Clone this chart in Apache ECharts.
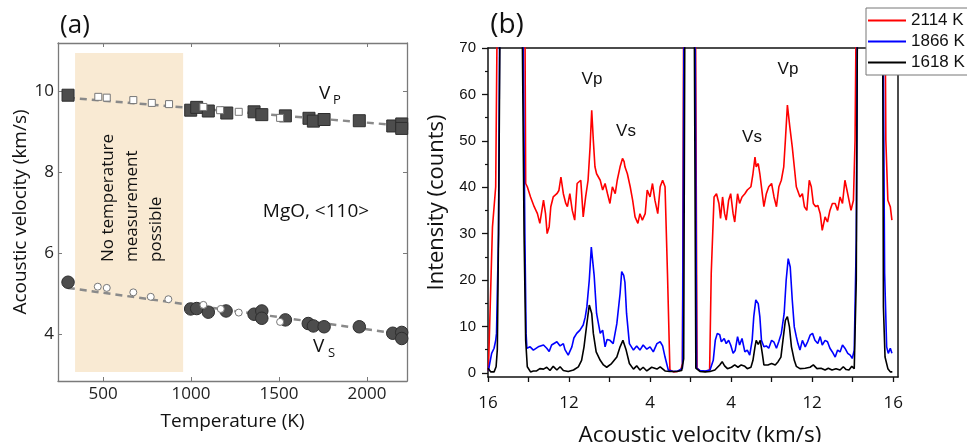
<!DOCTYPE html>
<html><head><meta charset="utf-8">
<script src="https://cdn.jsdelivr.net/npm/echarts@6/dist/echarts.min.js"></script>
<style>html,body{margin:0;padding:0;background:#fff}#c{width:967px;height:442px}</style>
</head><body><div id="c"></div>
<script>
// ---------- Panel (a): acoustic velocity vs temperature ----------
const tempTicks = [500, 1000, 1500, 2000];
const velTicks = [4, 6, 8, 10];
const vpFilledT = [301, 998, 1032, 1098, 1203, 1358, 1402, 1536, 1670, 1695, 1756, 1956, 2146, 2197, 2197];
const vpFilledV = [9.90, 9.53, 9.60, 9.51, 9.46, 9.49, 9.42, 9.39, 9.33, 9.26, 9.30, 9.27, 9.14, 9.19, 9.08];
const vpOpenT = [473, 521, 672, 777, 875, 1070, 1165, 1271, 1506];
const vpOpenV = [9.86, 9.84, 9.78, 9.71, 9.68, 9.61, 9.53, 9.49, 9.34];
const vsFilledT = [301, 998, 1032, 1098, 1199, 1358, 1402, 1402, 1536, 1666, 1695, 1756, 1956, 2146, 2197, 2197];
const vsFilledV = [5.28, 4.62, 4.63, 4.54, 4.57, 4.49, 4.57, 4.39, 4.35, 4.26, 4.20, 4.18, 4.18, 4.02, 4.04, 3.89];
const vsOpenT = [470, 521, 672, 771, 871, 1070, 1169, 1271, 1506];
const vsOpenV = [5.17, 5.14, 5.03, 4.92, 4.86, 4.72, 4.62, 4.53, 4.30];
const vpFitT = [300, 2227];
const vpFitV = [9.84, 9.14];
const vsFitT = [300, 2227];
const vsFitV = [5.14, 3.98];
const shadeT = [341, 955];
const shadeV = [3.06, 10.94];

// ---------- Panel (b): Brillouin spectra ----------
const bTickLabels = ['16', '', '12', '', '4', '', '4', '', '12', '', '16'];
const intensityTicks = [0, 10, 20, 30, 40, 50, 60, 70];
const intensityMinor = [5, 15, 25, 35, 45, 55, 65];
const legendNames = ['2114 K', '1866 K', '1618 K'];
const spec2114 = [[0.1,0.5],[1.1,31.4],[1.9,40.1],[2.3,80],[9.1,80],[9.3,40.8],[9.7,40.1],[10.5,37.9],[11.4,35.8],[12.2,34.3],[12.8,32.2],[13.7,37.2],[14.2,34.3],[14.6,30.0],[15.1,31.5],[15.5,35.8],[16.1,37.9],[17.0,38.6],[17.5,39.3],[18.0,42.2],[18.6,38.6],[19.2,36.5],[19.6,35.8],[20.2,38.6],[20.8,35.0],[21.4,32.9],[22.0,40.8],[22.9,41.5],[23.5,33.6],[24.1,37.9],[24.7,41.5],[25.2,48.7],[25.6,56.6],[26.0,50.1],[26.4,44.4],[26.8,42.9],[27.7,41.5],[28.3,39.4],[28.9,40.8],[29.5,38.6],[30.1,36.5],[30.7,40.1],[31.4,38.6],[31.9,41.5],[32.6,44.4],[33.2,46.2],[33.6,45.5],[33.8,44.4],[34.4,42.9],[35.1,40.1],[35.7,37.2],[36.3,33.6],[37.0,32.2],[37.5,34.3],[38.1,32.9],[38.8,34.3],[39.3,39.4],[40.0,37.9],[40.6,40.8],[41.2,37.2],[41.9,34.3],[42.5,40.1],[43.1,41.5],[43.7,40.1],[44.3,21.4],[44.9,0.6],[45.8,0.2],[46.7,0.3],[47.6,0.6],[48.0,2],[48.3,80],[51.2,80],[51.6,1],[52.3,0.5],[53.6,0.3],[54.7,0.6],[55.1,21.4],[55.8,37.9],[56.4,38.6],[57.0,36.5],[57.4,33.3],[57.9,37.9],[58.4,34.3],[58.8,32.9],[59.4,37.2],[59.9,38.6],[60.5,34.3],[60.9,32.5],[61.6,38.6],[62.1,36.5],[62.7,37.9],[63.4,38.6],[64.0,39.4],[64.9,40.1],[65.4,42.9],[65.9,46.5],[66.2,44.4],[66.7,45.1],[67.1,42.9],[67.7,38.6],[68.1,35.8],[68.7,38.6],[69.3,40.1],[70.0,40.8],[70.6,37.9],[71.2,35.8],[71.8,40.1],[72.4,41.5],[73.0,44.4],[73.4,50.1],[73.9,57.7],[74.5,53.0],[75.1,48.7],[75.6,44.4],[76.1,40.1],[76.5,40.1],[77.0,37.9],[77.6,38.6],[78.1,35.8],[78.7,35.0],[79.3,41.5],[79.8,40.1],[80.3,36.5],[80.9,35.8],[81.4,36.1],[82.0,34.3],[82.5,30.7],[83.2,33.6],[83.8,32.5],[84.4,35.0],[85.0,36.5],[85.7,36.5],[86.3,35.0],[86.9,37.9],[87.5,36.5],[88.1,41.5],[88.6,39.4],[89.1,37.2],[89.6,35.0],[90.2,37.2],[90.6,50.1],[90.9,80],[98.0,80],[98.2,50.1],[98.7,37.2],[99.3,35.8],[99.7,32.9]];
const spec1866 = [[0.1,0.5],[0.9,4.2],[1.5,5.3],[1.9,7.0],[2.1,8.5],[2.6,30],[2.9,80],[8.6,80],[9.1,30],[9.4,8.5],[9.6,5.3],[10.4,5.6],[11.2,4.9],[12.4,5.6],[13.7,6.0],[14.5,5.3],[15.1,4.6],[15.7,6.0],[17.0,6.7],[17.8,5.8],[18.6,6.3],[19.0,5.0],[19.8,3.8],[20.7,5.6],[21.2,7.5],[21.9,8.5],[22.7,9.2],[23.5,10.3],[24.0,12.0],[24.4,14.2],[25.0,20.0],[25.5,27.1],[25.8,27.5],[26.2,21.0],[26.8,12.8],[27.7,8.5],[28.3,9.2],[28.9,5.6],[29.4,7.2],[30.1,7.0],[30.9,6.3],[31.8,10.6],[32.6,17.1],[33.0,21.8],[33.5,21.0],[33.8,19.5],[34.2,12.8],[34.9,6.3],[35.9,4.9],[36.7,5.8],[37.5,4.9],[38.3,6.0],[39.2,5.1],[40.0,5.6],[40.8,4.5],[41.7,6.3],[42.5,6.7],[43.1,5.8],[43.7,3.4],[44.5,0.6],[45.7,0.3],[46.9,0.4],[48.0,1.0],[48.4,80],[51.1,80],[51.5,1.0],[52.3,0.5],[53.6,0.4],[54.8,0.6],[55.6,2.7],[56.1,7.0],[56.6,8.5],[57.2,8.2],[57.6,6.7],[58.3,7.4],[58.8,6.3],[59.4,7.0],[59.9,6.0],[60.5,4.2],[61.0,4.8],[61.6,7.8],[62.1,6.0],[62.7,7.4],[63.4,4.5],[64.0,4.9],[64.6,3.8],[65.2,7.0],[65.6,12.1],[66.1,15.7],[66.7,14.9],[67.1,12.1],[67.5,7.0],[68.1,5.6],[68.7,5.8],[69.3,5.3],[70.0,7.0],[70.6,6.6],[71.2,5.3],[71.8,6.8],[72.4,8.5],[73.1,12.8],[73.6,20.0],[74.1,24.6],[74.6,22.8],[75.1,15.7],[75.6,9.9],[76.1,7.8],[76.5,6.3],[77.0,4.9],[77.6,7.0],[78.3,5.6],[78.9,6.7],[79.5,8.1],[80.1,8.5],[80.7,7.0],[81.4,6.3],[82.0,7.8],[82.5,6.0],[83.2,7.0],[83.8,6.7],[84.4,5.3],[85.0,4.5],[85.7,3.4],[86.3,4.9],[86.9,4.5],[87.5,6.0],[88.1,5.3],[88.8,4.2],[89.4,3.8],[89.9,3.1],[90.4,4.9],[90.9,28.6],[91.2,80],[97.5,80],[97.9,21.4],[98.4,5.6],[98.8,4.2],[99.3,5.3],[99.7,4.2]];
const spec1618 = [[0.0,1.0],[0.7,0.2],[1.5,0.2],[2.0,1.3],[2.3,5],[2.6,30],[3.0,80],[8.4,80],[8.9,30],[9.3,7],[9.7,1.3],[10.5,0.2],[11.2,0.4],[12.0,0.4],[12.8,0.9],[13.7,0.8],[14.5,1.2],[15.3,0.5],[16.1,1.4],[17.0,0.6],[17.8,1.3],[18.6,0.5],[19.8,0.3],[21.1,0.6],[22.3,1.3],[23.1,2.7],[23.7,5.6],[24.4,10.6],[25.0,14.6],[25.6,12.8],[26.0,8.5],[26.7,4.5],[27.7,2.7],[28.5,1.7],[29.3,1.2],[30.5,2.0],[31.8,3.4],[32.6,5.6],[33.3,7.0],[34.1,4.9],[34.9,2.0],[35.9,0.8],[36.7,1.5],[37.5,0.6],[38.3,1.2],[39.2,0.4],[40.4,1.2],[41.7,0.8],[42.5,1.3],[43.7,0.4],[44.9,0.3],[46.6,0.3],[47.8,0.5],[48.3,3],[48.6,80],[50.9,80],[51.3,1.0],[52.3,0.3],[53.6,0.2],[54.8,0.3],[56.0,0.6],[57.2,1.7],[57.8,2.4],[58.4,1.5],[59.1,0.9],[60.1,1.2],[60.9,1.7],[61.7,1.2],[62.5,1.7],[63.4,1.4],[64.0,0.9],[64.9,1.2],[65.4,2.7],[65.9,5.6],[66.2,7.0],[66.7,6.1],[67.2,7.0],[67.7,4.2],[68.1,1.7],[69.1,1.7],[70.0,2.0],[70.9,1.7],[71.6,2.4],[72.3,3.4],[72.8,7.0],[73.4,11.3],[73.9,12.1],[74.4,9.9],[74.9,5.6],[75.6,2.7],[76.1,1.4],[77.0,0.9],[78.3,1.0],[79.5,1.2],[80.3,1.7],[81.2,0.9],[82.2,1.0],[83.2,0.6],[84.0,1.0],[84.9,0.6],[85.9,0.9],[86.9,0.6],[87.7,1.3],[88.4,0.7],[89.1,0.6],[89.8,1.4],[90.4,0.9],[90.9,20],[91.2,80],[97.4,80],[97.6,14.2],[98.0,3.4],[98.7,0.9],[99.3,0.2],[99.8,0.2]];

const zip = (a, b) => a.map((v, i) => [v, b[i]]);
const OS = '"Open Sans", "DejaVu Sans", sans-serif';
const LS = '"Liberation Sans", Arial, sans-serif';
const frameA = '#7a7a7a';

function txt(x, y, text, font, align) {
  const a = align || 'center';
  return {
    type: 'text', x: x, y: y, silent: true, z: 100,
    style: {text: text, font: font, fill: '#111', align: a, verticalAlign: 'middle',
            textAlign: a, textVerticalAlign: 'middle'}
  };
}

const chart = echarts.init(document.getElementById('c'), null, {renderer: 'canvas'});
const option = {
  animation: false,
  backgroundColor: '#fff',
  grid: [
    {left: 58, top: 43, width: 349, height: 338, containLabel: false, outerBoundsMode: 'none'},
    {left: 488, top: 48, width: 410, height: 329, containLabel: false, outerBoundsMode: 'none'}
  ],
  legend: {
    data: legendNames, left: 866, top: 8, orient: 'vertical', z: 20,
    icon: 'rect', itemWidth: 38, itemHeight: 2, itemGap: 2,
    padding: [3, 8, 3, 2], borderColor: '#777', borderWidth: 1, backgroundColor: '#fff',
    textStyle: {fontFamily: LS, fontSize: 17, color: '#111', lineHeight: 19}
  },
  xAxis: [
    {gridIndex: 0, type: 'value', min: 244, max: 2227, position: 'bottom',
     axisLine: {onZero: false, lineStyle: {color: frameA, width: 1.3}},
     axisTick: {inside: true, length: 4, customValues: tempTicks, lineStyle: {color: frameA}},
     axisLabel: {customValues: tempTicks, margin: 5, fontFamily: OS, fontSize: 17, color: '#222',
                 formatter: v => String(v)},
     splitLine: {show: false},
     name: 'Temperature (K)', nameLocation: 'middle', nameGap: 31,
     nameTextStyle: {fontFamily: OS, fontSize: 19, color: '#111'}},
    {gridIndex: 0, type: 'value', min: 244, max: 2227, position: 'top',
     axisLine: {onZero: false, lineStyle: {color: frameA, width: 1.3}},
     axisTick: {inside: true, length: 4, customValues: tempTicks, lineStyle: {color: frameA}},
     axisLabel: {show: false}, splitLine: {show: false}},
    {gridIndex: 1, type: 'value', min: 0, max: 101.2, interval: 10, position: 'bottom',
     axisLine: {onZero: false, lineStyle: {color: '#111', width: 1.5}},
     axisTick: {inside: false, length: 5, lineStyle: {color: '#111', width: 1.3}},
     axisLabel: {margin: 18, fontFamily: OS, fontSize: 17, color: '#111', showMaxLabel: false,
                 formatter: v => { const k = Math.round(v / 10); return bTickLabels[k] !== undefined ? bTickLabels[k] : ''; }},
     splitLine: {show: false},
     name: 'Acoustic velocity (km/s)', nameLocation: 'middle', nameGap: 47,
     nameTextStyle: {fontFamily: OS, fontSize: 22.5, color: '#111', padding: [0, 0, 0, 14]}},
    {gridIndex: 1, type: 'value', min: 0, max: 101.2, position: 'top',
     axisLine: {onZero: false, lineStyle: {color: '#111', width: 1.5}},
     axisTick: {show: false}, axisLabel: {show: false}, splitLine: {show: false}}
  ],
  yAxis: [
    {gridIndex: 0, type: 'value', min: 2.84, max: 11.19, position: 'left',
     axisLine: {onZero: false, lineStyle: {color: frameA, width: 1.3}},
     axisTick: {inside: true, length: 4, customValues: velTicks, lineStyle: {color: frameA}},
     axisLabel: {customValues: velTicks, margin: 4, fontFamily: OS, fontSize: 17, color: '#222'},
     splitLine: {show: false},
     name: 'Acoustic velocity (km/s)', nameLocation: 'middle', nameGap: 28,
     nameTextStyle: {fontFamily: OS, fontSize: 19, color: '#111'}},
    {gridIndex: 0, type: 'value', min: 2.84, max: 11.19, position: 'right',
     axisLine: {onZero: false, lineStyle: {color: frameA, width: 1.3}},
     axisTick: {inside: true, length: 4, customValues: velTicks, lineStyle: {color: frameA}},
     axisLabel: {show: false}, splitLine: {show: false}},
    {gridIndex: 1, type: 'value', min: -0.9, max: 70, position: 'left',
     axisLine: {onZero: false, lineStyle: {color: '#111', width: 1.5}},
     axisTick: {inside: false, length: 6, customValues: intensityTicks, lineStyle: {color: '#111', width: 1.3}},
     axisLabel: {customValues: intensityTicks, margin: 12, fontFamily: LS, fontSize: 15, color: '#111'},
     splitLine: {show: false},
     name: 'Intensity (counts)', nameLocation: 'middle', nameGap: 40,
     nameTextStyle: {fontFamily: OS, fontSize: 22, color: '#111', padding: [0, 0, 0, 20]}},
    {gridIndex: 1, type: 'value', min: -0.9, max: 70, position: 'left',
     axisLine: {show: false},
     axisTick: {inside: false, length: 3, customValues: intensityMinor, lineStyle: {color: '#111', width: 1.2}},
     axisLabel: {show: false}, splitLine: {show: false}},
    {gridIndex: 1, type: 'value', min: -0.9, max: 70, position: 'right',
     axisLine: {onZero: false, lineStyle: {color: '#111', width: 1.5}},
     axisTick: {show: false}, axisLabel: {show: false}, splitLine: {show: false}}
  ],
  series: [
    {type: 'line', name: 'Vp fit', xAxisIndex: 0, yAxisIndex: 0, data: zip(vpFitT, vpFitV),
     symbol: 'none', lineStyle: {color: '#8a8a8a', width: 2.5, type: [7, 5]}, z: 2, silent: true,
     markArea: {silent: true, itemStyle: {color: '#f9ead3'}, z: 0,
                data: [[{coord: [shadeT[0], shadeV[0]]}, {coord: [shadeT[1], shadeV[1]]}]]}},
    {type: 'line', name: 'Vs fit', xAxisIndex: 0, yAxisIndex: 0, data: zip(vsFitT, vsFitV),
     symbol: 'none', lineStyle: {color: '#8a8a8a', width: 2.5, type: [7, 5]}, z: 2, silent: true},
    {type: 'scatter', name: 'Vp', xAxisIndex: 0, yAxisIndex: 0, data: zip(vpFilledT, vpFilledV),
     symbol: 'rect', symbolSize: 12, itemStyle: {color: '#4d4d4d', borderColor: '#2e2e2e', borderWidth: 1, opacity: 1}, z: 3},
    {type: 'scatter', name: 'Vp open', xAxisIndex: 0, yAxisIndex: 0, data: zip(vpOpenT, vpOpenV),
     symbol: 'rect', symbolSize: 7, itemStyle: {color: '#fff', borderColor: '#777', borderWidth: 1, opacity: 1}, z: 4},
    {type: 'scatter', name: 'Vs', xAxisIndex: 0, yAxisIndex: 0, data: zip(vsFilledT, vsFilledV),
     symbol: 'circle', symbolSize: 12.5, itemStyle: {color: '#4d4d4d', borderColor: '#2e2e2e', borderWidth: 1, opacity: 1}, z: 3},
    {type: 'scatter', name: 'Vs open', xAxisIndex: 0, yAxisIndex: 0, data: zip(vsOpenT, vsOpenV),
     symbol: 'circle', symbolSize: 7, itemStyle: {color: '#fff', borderColor: '#777', borderWidth: 1, opacity: 1}, z: 4},
    {type: 'line', name: legendNames[0], xAxisIndex: 2, yAxisIndex: 2, data: spec2114,
     symbol: 'none', showSymbol: false, clip: true, lineStyle: {color: '#ff0000', width: 1.6}, itemStyle: {color: '#ff0000'}, z: 2},
    {type: 'line', name: legendNames[1], xAxisIndex: 2, yAxisIndex: 2, data: spec1866,
     symbol: 'none', showSymbol: false, clip: true, lineStyle: {color: '#0000ff', width: 1.6}, itemStyle: {color: '#0000ff'}, z: 3},
    {type: 'line', name: legendNames[2], xAxisIndex: 2, yAxisIndex: 2, data: spec1618,
     symbol: 'none', showSymbol: false, clip: true, lineStyle: {color: '#000000', width: 1.6}, itemStyle: {color: '#000000'}, z: 4}
  ],
  graphic: [
    txt(75, 26, '(a)', '26px ' + OS),
    txt(507, 25, '(b)', '28px ' + OS),
    {type: 'text', x: 132.5, y: 262, rotation: Math.PI / 2, silent: true, z: 100,
     style: {text: 'No temperature\nmeasurement\npossible', font: '17px ' + OS, fill: '#111',
             align: 'left', verticalAlign: 'middle', textAlign: 'left', textVerticalAlign: 'middle', lineHeight: 24}},
    txt(316, 212, 'MgO, <110>', '19px ' + OS),
    txt(319, 94, 'V', '19px ' + OS, 'left'),
    txt(333, 100, 'P', '13px ' + OS, 'left'),
    txt(313, 347, 'V', '19px ' + OS, 'left'),
    txt(328, 353, 'S', '13px ' + OS, 'left'),
    txt(592, 79, 'Vp', '17px ' + LS),
    txt(626, 131, 'Vs', '17px ' + LS),
    txt(752, 137, 'Vs', '17px ' + LS),
    txt(788, 69, 'Vp', '17px ' + LS)
  ]
};
chart.setOption(option);
</script>
</body></html>
